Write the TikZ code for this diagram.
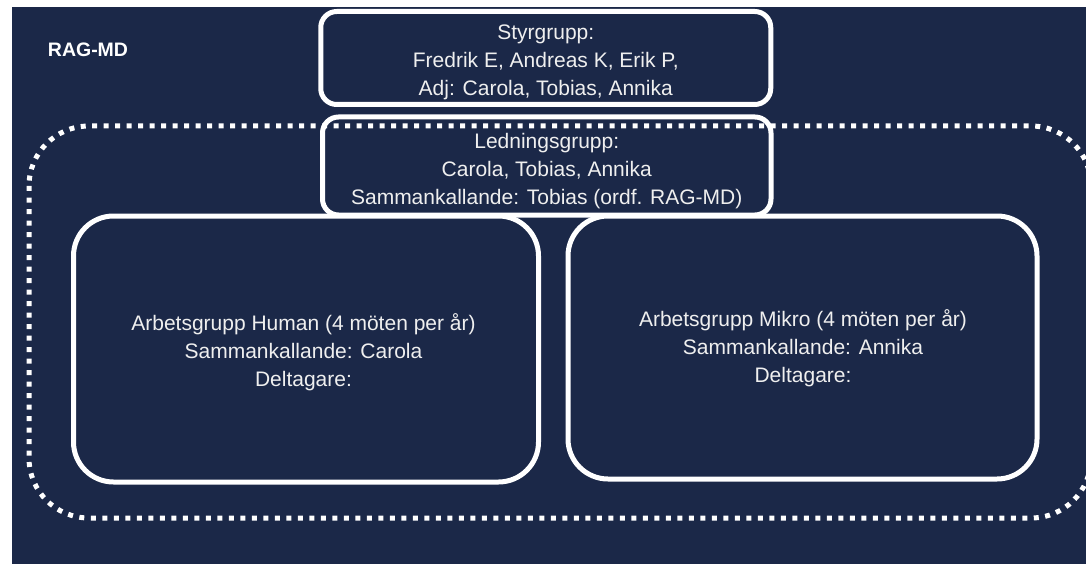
\documentclass[tikz,border=0pt]{standalone}
\usepackage{fontspec}
\setmainfont{Liberation Sans}
\definecolor{navy}{HTML}{1B2848}
\definecolor{txt}{HTML}{EFEFEF}
\tikzset{
  grpbox/.style={draw=white, line width=5pt, inner sep=0pt},
  smallbox/.style={grpbox, rounded corners=16pt},
  bigbox/.style={grpbox, rounded corners=40pt},
  grptext/.style={align=center, text=txt, font=\fontsize{21}{28}\selectfont},
  dotframe/.style={draw=white, line width=5pt, dash pattern=on 5pt off 6.5pt, rounded corners=60pt},
  title/.style={text=white, font=\bfseries\fontsize{19.5}{22}\selectfont, inner sep=0pt}
}
\begin{document}
\begin{tikzpicture}[x=1pt,y=-1pt]
\useasboundingbox (0,0) rectangle (1086,564);
\clip (0,0) rectangle (1086,564);
\fill[navy] (12,7) rectangle (1100,580);
\node[title] (rag) at (88,50) {RAG-MD};
\draw[dotframe] (29,126) rectangle (1091,518);
\node[smallbox, minimum width=450pt, minimum height=93pt] (styr) at (545.75,58) {};
\node[grptext] (styrt) at (545.75,62) {Styrgrupp:\\Fredrik E, Andreas K, Erik P,\\Adj: Carola, Tobias, Annika};
\node[smallbox, minimum width=448.5pt, minimum height=98pt] (led) at (546.75,166) {};
\node[grptext] (ledt) at (546.75,171) {Ledningsgrupp:\\Carola, Tobias, Annika\\Sammankallande: Tobias (ordf. RAG-MD)};
\node[bigbox, minimum width=465pt, minimum height=266pt] (human) at (306,349) {};
\node[grptext] (humant) at (303.5,352) {Arbetsgrupp Human (4 möten per år)\\Sammankallande: Carola\\Deltagare:};
\node[bigbox, minimum width=469pt, minimum height=263pt] (mikro) at (802.5,347.5) {};
\node[grptext] (mikrot) at (803,348.5) {Arbetsgrupp Mikro (4 möten per år)\\Sammankallande: Annika\\Deltagare:};
\end{tikzpicture}
\end{document}
